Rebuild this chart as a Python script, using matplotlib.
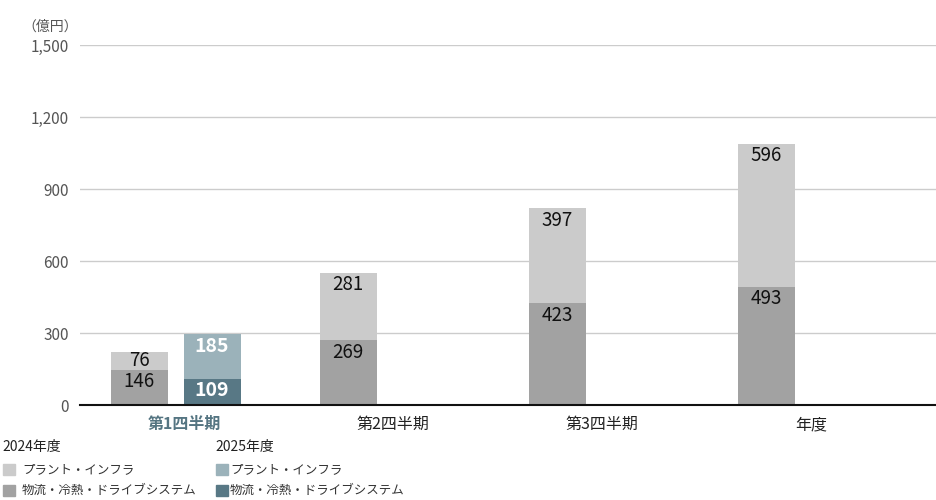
import matplotlib
matplotlib.use("Agg")
import matplotlib.pyplot as plt
from matplotlib.patches import Rectangle

plt.rcParams['font.family'] = ['Noto Sans CJK JP', 'DejaVu Sans']

categories = ['第1四半期', '第2四半期', '第3四半期', '年度']
logistics_2024 = [146, 269, 423, 493]
plant_2024 = [76, 281, 397, 596]
logistics_2025 = [109]
plant_2025 = [185]
yticks = [0, 300, 600, 900, 1200, 1500]
ytick_labels = ['0', '300', '600', '900', '1,200', '1,500']
series_names = ['プラント・インフラ', '物流・冷熱・ドライブシステム']
years = ['2024年度', '2025年度']
unit = '（億円）'

C24_PLANT = '#cbcbcb'
C24_LOG = '#a2a2a2'
C25_PLANT = '#9bb2ba'
C25_LOG = '#587885'
HILITE = '#557582'

PX = 209.0
W = 57 / PX
OFF24 = -45 / PX
OFF25 = 28 / PX

fig = plt.figure(figsize=(9.36, 5.0), dpi=100)
ax = fig.add_axes([80/936, 95/500, 856/936, 360/500])

x = list(range(len(categories)))
x24 = [i + OFF24 for i in x]
x25 = [x[i] + OFF25 for i in range(len(logistics_2025))]

ax.bar(x24, logistics_2024, width=W, color=C24_LOG, zorder=2)
ax.bar(x24, plant_2024, width=W, bottom=logistics_2024, color=C24_PLANT, zorder=2)
ax.bar(x25, logistics_2025, width=W, color=C25_LOG, zorder=2)
ax.bar(x25, plant_2025, width=W, bottom=logistics_2025, color=C25_PLANT, zorder=2)


def label_pos(bottom, value):
    top = bottom + value
    return max(top - 50, bottom + value / 2)


for xi, lo, pl in zip(x24, logistics_2024, plant_2024):
    ax.text(xi, label_pos(0, lo), f'{lo}', ha='center', va='center',
            fontsize=13.5, color='#111111', zorder=3)
    ax.text(xi, label_pos(lo, pl), f'{pl}', ha='center', va='center',
            fontsize=13.5, color='#111111', zorder=3)
for xi, lo, pl in zip(x25, logistics_2025, plant_2025):
    ax.text(xi, label_pos(0, lo), f'{lo}', ha='center', va='center',
            fontsize=14, fontweight='bold', color='white', zorder=3)
    ax.text(xi, label_pos(lo, pl), f'{pl}', ha='center', va='center',
            fontsize=14, fontweight='bold', color='white', zorder=3)

ax.set_xlim((80 - 184) / PX, (936 - 184) / PX)
ax.set_ylim(0, 1500)
ax.set_yticks(yticks)
ax.set_yticklabels(ytick_labels, fontsize=11, color='#555555')
ax.set_xticks(x)
ax.set_xticklabels(categories, fontsize=11.5, color='#222222')
tl = ax.get_xticklabels()
tl[0].set_color(HILITE)
tl[0].set_fontweight('bold')
ax.tick_params(axis='y', length=0, pad=8)
ax.tick_params(axis='x', length=0, pad=8)
ax.yaxis.grid(True, color='#cccccc', linewidth=1)
ax.set_axisbelow(True)
for s in ['top', 'right', 'left']:
    ax.spines[s].set_visible(False)
ax.spines['bottom'].set_color('#111111')
ax.spines['bottom'].set_linewidth(1.5)
ax.spines['bottom'].set_zorder(4)

fig.text(22/936, 1 - 27/500, unit, fontsize=10, color='#555555', ha='left', va='center')

# legend
legend_cols = [
    (2, 20, years[0], [C24_PLANT, C24_LOG]),
    (215, 15, years[1], [C25_PLANT, C25_LOG]),
]
for x0, tx, yr, cols in legend_cols:
    fig.text(x0/936, 1 - 447/500, yr, fontsize=10, color='#222222', ha='left', va='center')
    for k, (name, c) in enumerate(zip(series_names, cols)):
        yc = 469.5 + 20.5 * k
        fig.patches.append(Rectangle(((x0 + 1)/936, 1 - (yc + 5.5)/500), 12/936, 11/500,
                                     transform=fig.transFigure, color=c))
        fig.text((x0 + tx)/936, 1 - yc/500, name, fontsize=9, color='#333333',
                 ha='left', va='center')

fig.savefig('out.png', dpi=100)
